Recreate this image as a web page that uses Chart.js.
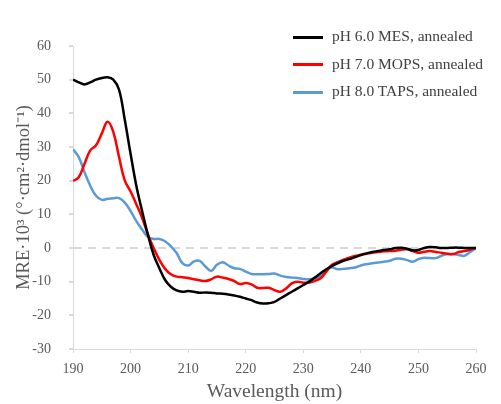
<!DOCTYPE html>
<html>
<head>
<meta charset="utf-8">
<script src="https://cdn.jsdelivr.net/npm/chart.js@4"></script>
<style>
  body { margin: 0; background: #fff; }
  #wrap { position: relative; width: 501px; height: 404px; }
  #legend { position: absolute; left: 293px; top: 25px; font-family: "Liberation Serif", serif; font-size: 15.5px; color: #404040; }
  #legend div { height: 27.5px; line-height: 22px; white-space: nowrap; }
  #legend span.sw { display: inline-block; width: 30px; height: 3px; vertical-align: middle; margin-right: 9px; }
</style>
</head>
<body>
<div id="wrap">
  <canvas id="cd"></canvas>
  <div id="legend"></div>
</div>
<script>
// wavelength (nm), 1 nm steps
var wavelength = [];
for (var w = 190; w <= 260; w++) wavelength.push(w);

var seriesNames = ["pH 6.0 MES, annealed", "pH 7.0 MOPS, annealed", "pH 8.0 TAPS, annealed"];
var seriesColors = ["#000000", "#ff0000", "#5b9bd5"];

var mes = [50, 49.2, 48.6, 49.2, 50, 50.5, 50.7, 50, 47, 38,
	28, 18.5, 11, 4, -2, -6, -9.5, -11.5, -12.6, -13,
	-12.8, -13, -13.3, -13.2, -13.3, -13.5, -13.6, -13.8, -14.1, -14.5,
	-15, -15.5, -16.2, -16.5, -16.4, -16, -15, -14, -13, -12,
	-11, -10, -8.8, -7.5, -6.3, -5.3, -4.5, -3.8, -3.3, -2.7,
	-2.1, -1.6, -1.2, -0.9, -0.6, -0.4, 0, 0.1, -0.2, -0.7,
	-0.6, 0, 0.3, 0.2, 0, 0, 0.1, 0.1, 0, 0, 0];

var mops = [19.9, 21, 25, 29, 30.5, 34, 37.5, 34.5, 27, 20,
	16.8, 13, 9, 4.1, 0, -3.5, -6.2, -7.8, -8.5, -8.7,
	-8.9, -9.3, -9.6, -9.8, -9.3, -8.5, -8.8, -9.2, -9.8, -10.7,
	-10.4, -10.8, -11.8, -11.9, -11.8, -12.5, -13, -12, -10.5, -10,
	-10.3, -10.3, -9.8, -9, -7, -5, -4.2, -3.5, -2.9, -2.4,
	-2, -1.7, -1.4, -1.2, -1, -0.9, -0.8, -0.5, -0.4, -0.9,
	-1.4, -1.1, -0.9, -1.2, -1.4, -1.7, -1.8, -1.2, -0.9, -0.5, 0];

var taps = [29.3, 27, 22.5, 18.5, 15.5, 14.3, 14.6, 14.8, 14.8, 13.5,
	11, 8, 5.5, 3.3, 2.7, 2.7, 2, 0.5, -1.5, -4.5,
	-5.2, -4, -3.8, -5.5, -6.8, -5, -4.2, -5.2, -6, -6.2,
	-7, -7.7, -7.8, -7.8, -7.7, -7.6, -8.2, -8.6, -8.8, -8.9,
	-9.2, -9.3, -9, -8.3, -6.5, -5.8, -6.3, -6.2, -6, -5.8,
	-5.2, -4.8, -4.5, -4.3, -4.1, -3.8, -3.2, -3.2, -3.6, -4.1,
	-3.3, -2.9, -3, -3, -2.3, -1.8, -1.8, -2.1, -2.3, -1.2, 0];

var allSeries = [mes, mops, taps];

function toPoints(vals) {
	var pts = [];
	for (var i = 0; i < vals.length; i++) pts.push({x: wavelength[i], y: vals[i]});
	return pts;
}

var datasets = [];
for (var s = 0; s < allSeries.length; s++) {
	datasets.push({
		label: seriesNames[s],
		data: toPoints(allSeries[s]),
		borderColor: seriesColors[s],
		backgroundColor: seriesColors[s],
		borderWidth: 2.5,
		pointRadius: 0,
		tension: 0.4,
		fill: false
	});
}

var serif = "'Liberation Serif', 'Times New Roman', serif";
var axisGrey = "#d9d9d9";
var textGrey = "#595959";

var chart = new Chart(document.getElementById("cd"), {
	type: "line",
	data: {datasets: datasets},
	options: {
		responsive: true,
		maintainAspectRatio: false,
		animation: false,
		layout: {padding: {top: 46, right: 25, bottom: 0, left: 0}},
		plugins: {legend: {display: false}, tooltip: {enabled: false}},
		scales: {
			x: {
				type: "linear",
				min: 190, max: 260,
				ticks: {stepSize: 10, color: textGrey, font: {family: serif, size: 14}, padding: 8, maxRotation: 0},
				grid: {drawOnChartArea: false, tickLength: 4, tickColor: axisGrey},
				border: {color: axisGrey, width: 1},
				title: {display: true, text: "Wavelength (nm)", color: textGrey, font: {family: serif, size: 19.5}, padding: {top: 2, bottom: 0}},
				afterFit: function(scale) { scale.height = 55; }
			},
			y: {
				min: -30, max: 60,
				ticks: {stepSize: 10, color: textGrey, font: {family: serif, size: 14}, padding: 18},
				grid: {
					tickLength: 4,
					tickColor: axisGrey,
					lineWidth: 2,
					color: function(c) { return c.tick && c.tick.value === 0 ? axisGrey : "rgba(0,0,0,0)"; }
				},
				border: {color: axisGrey, width: 1, dash: [8, 6]},
				title: {display: true, text: "MRE·10³ (°·cm²·dmol⁻¹)", color: textGrey, font: {family: serif, size: 18.5}, padding: {top: 13, bottom: 0}},
				afterFit: function(scale) { scale.width = 73; }
			}
		}
	}
});

var legend = document.getElementById("legend");
chart.data.datasets.forEach(function(ds) {
	var row = document.createElement("div");
	var sw = document.createElement("span");
	sw.className = "sw";
	sw.style.background = ds.borderColor;
	row.appendChild(sw);
	row.appendChild(document.createTextNode(ds.label));
	legend.appendChild(row);
});
</script>
</body>
</html>
